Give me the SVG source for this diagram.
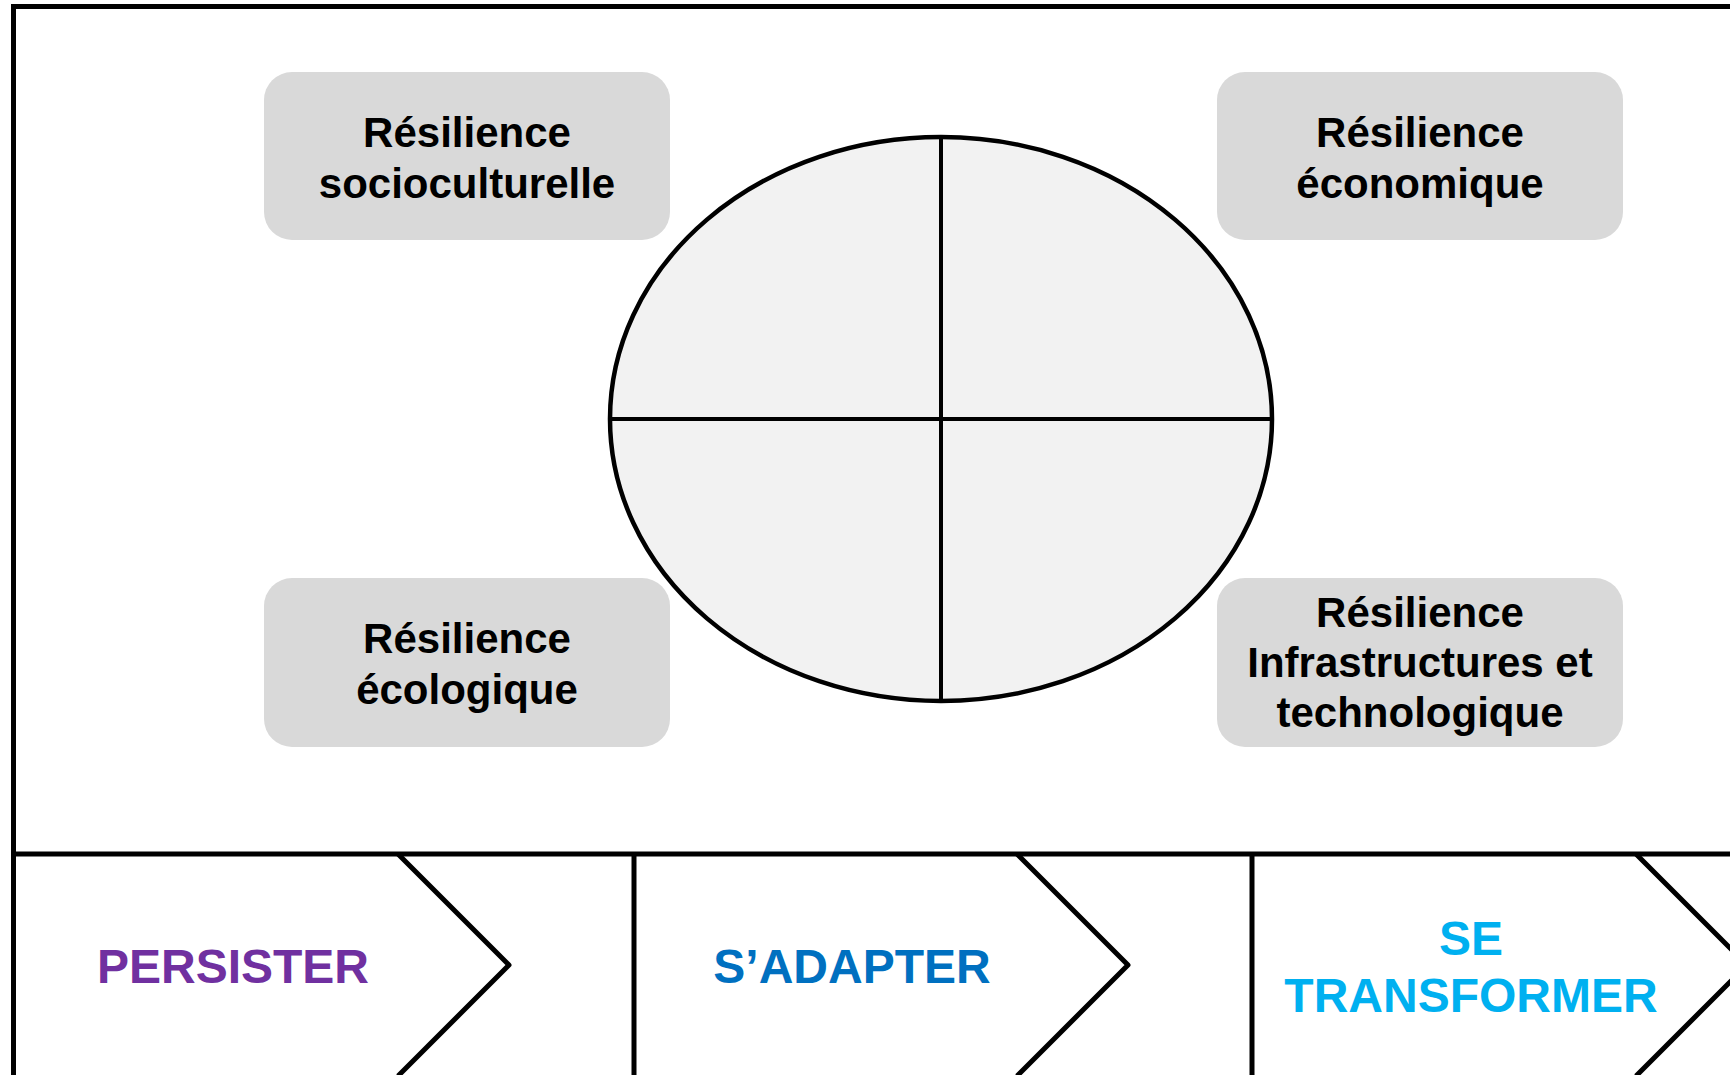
<svg xmlns="http://www.w3.org/2000/svg" width="1730" height="1075" viewBox="0 0 1730 1075">
  <style>
    .frame { fill: none; stroke: #000; stroke-width: 5; }
    .box { fill: #d9d9d9; }
    .lbl { font-family: "Liberation Sans", Arial, sans-serif; font-weight: bold; font-size: 42px; fill: #000; text-anchor: middle; }
    .stage { font-family: "Liberation Sans", Arial, sans-serif; font-weight: bold; font-size: 48px; text-anchor: middle; }
    .chev { fill: none; stroke: #000; stroke-width: 5; stroke-linejoin: round; }
    .div { stroke: #000; stroke-width: 5; }
  </style>

  <rect width="1730" height="1075" fill="#fff"/>

  <!-- outer frame and band separator -->
  <g id="frame">
    <path class="frame" d="M1740 6.5 H13.5 V1080"/>
    <path class="frame" d="M13.5 854 H1740"/>
  </g>

  <!-- central quartered ellipse -->
  <g id="cercle">
    <ellipse cx="941" cy="419" rx="331" ry="282" fill="#f2f2f2" stroke="#000" stroke-width="4.5"/>
    <line x1="941" y1="137" x2="941" y2="701" stroke="#000" stroke-width="4"/>
    <line x1="610" y1="419" x2="1272" y2="419" stroke="#000" stroke-width="4"/>
  </g>

  <!-- resilience labels -->
  <g id="resilience-socioculturelle">
    <rect class="box" x="264" y="72" width="406" height="168" rx="28"/>
    <text class="lbl" x="467" y="147">Résilience</text>
    <text class="lbl" x="467" y="198">socioculturelle</text>
  </g>
  <g id="resilience-economique">
    <rect class="box" x="1217" y="72" width="406" height="168" rx="28"/>
    <text class="lbl" x="1420" y="147">Résilience</text>
    <text class="lbl" x="1420" y="198">économique</text>
  </g>
  <g id="resilience-ecologique">
    <rect class="box" x="264" y="578" width="406" height="169" rx="28"/>
    <text class="lbl" x="467" y="653">Résilience</text>
    <text class="lbl" x="467" y="704">écologique</text>
  </g>
  <g id="resilience-infrastructures">
    <rect class="box" x="1217" y="578" width="406" height="169" rx="28"/>
    <text class="lbl" x="1420" y="627">Résilience</text>
    <text class="lbl" x="1420" y="677">Infrastructures et</text>
    <text class="lbl" x="1420" y="727">technologique</text>
  </g>

  <!-- bottom band: three stages -->
  <g id="persister">
    <polyline class="chev" points="398,854 509,965 398,1076"/>
    <text class="stage" x="233" y="983" fill="#7030a0">PERSISTER</text>
  </g>
  <g id="s-adapter">
    <line class="div" x1="634" y1="854" x2="634" y2="1080"/>
    <polyline class="chev" points="1017,854 1128,965 1017,1076"/>
    <text class="stage" x="852" y="983" fill="#0070c0">S’ADAPTER</text>
  </g>
  <g id="se-transformer">
    <line class="div" x1="1252" y1="854" x2="1252" y2="1080"/>
    <polyline class="chev" points="1636,854 1747,965 1636,1076"/>
    <text class="stage" x="1471" y="955" fill="#00b0f0">SE</text>
    <text class="stage" x="1471" y="1012" fill="#00b0f0">TRANSFORMER</text>
  </g>
</svg>
